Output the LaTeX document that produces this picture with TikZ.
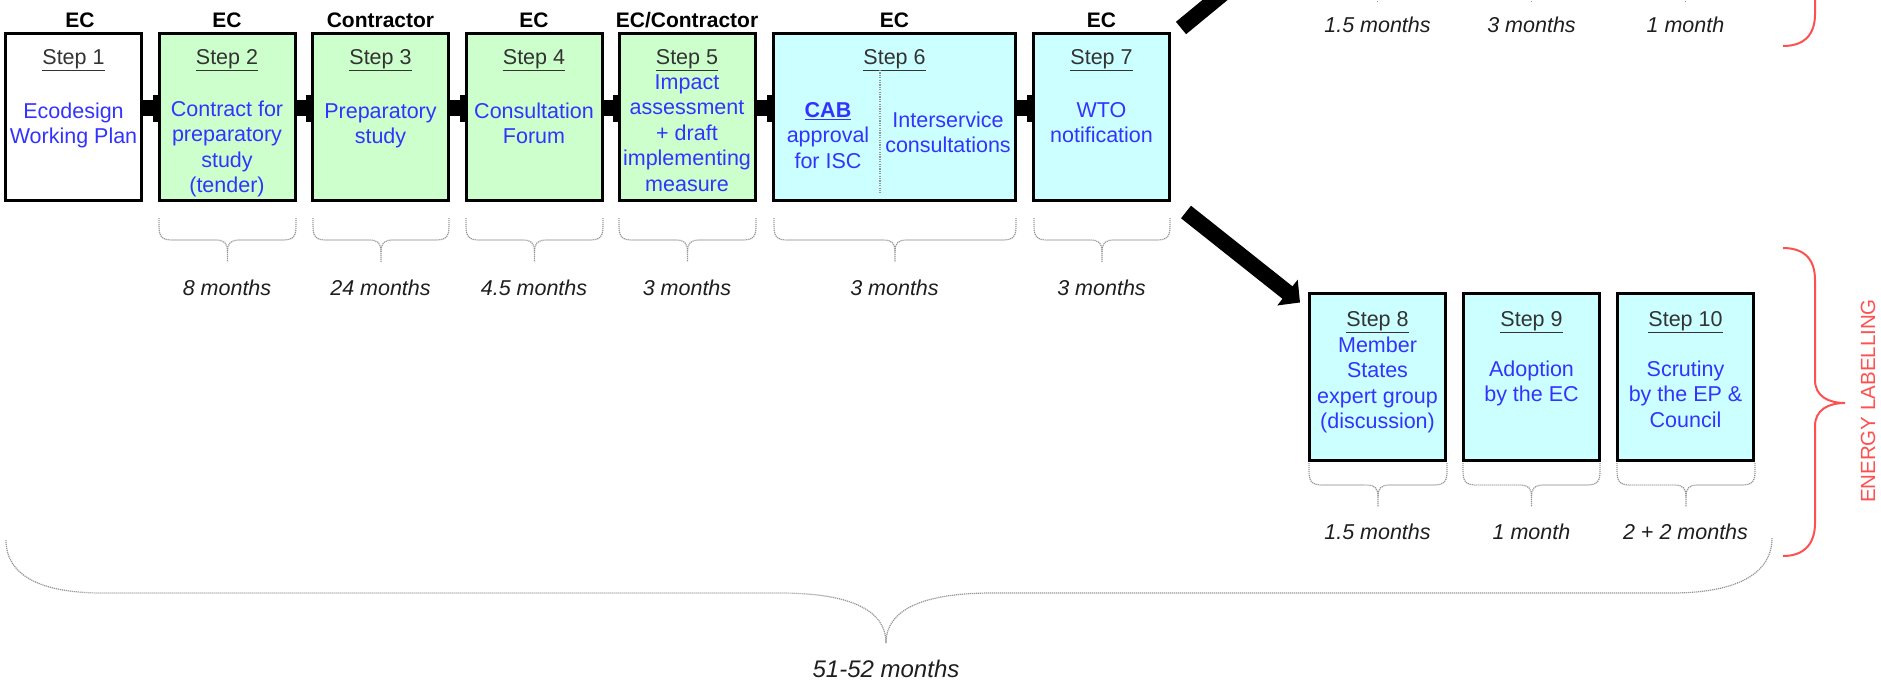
\documentclass[tikz,border=0pt]{standalone}
\usepackage{fontspec}
\setmainfont{Liberation Sans}
\usetikzlibrary{arrows.meta,backgrounds}
\definecolor{boxgreen}{RGB}{204,255,204}
\definecolor{boxcyan}{RGB}{204,255,255}
\definecolor{txtblue}{RGB}{51,51,255}
\definecolor{steptxt}{RGB}{51,51,51}
\definecolor{durtxt}{RGB}{30,30,30}
\definecolor{brgray}{RGB}{150,150,150}
\definecolor{elred}{RGB}{255,80,80}
\newcommand\hbrace[3]{%
  \pgfmathsetmacro\hbA{#1}\pgfmathsetmacro\hbB{#2}\pgfmathsetmacro\hbM{(#1+#2)/2}%
  \pgfmathsetmacro\hbT{#3}\pgfmathsetmacro\hbH{#3+22}\pgfmathsetmacro\hbP{#3+44}%
  \draw[brc] (\hbA,\hbT) -- (\hbA,{\hbT+8}) .. controls (\hbA,{\hbH-3}) and ({\hbA+3},\hbH) .. ({\hbA+14},\hbH)
    -- ({\hbM-12},\hbH) .. controls ({\hbM-3},\hbH) and (\hbM,{\hbH+3}) .. (\hbM,{\hbH+12}) -- (\hbM,\hbP);
  \draw[brc] (\hbB,\hbT) -- (\hbB,{\hbT+8}) .. controls (\hbB,{\hbH-3}) and ({\hbB-3},\hbH) .. ({\hbB-14},\hbH)
    -- ({\hbM+12},\hbH) .. controls ({\hbM+3},\hbH) and (\hbM,{\hbH+3}) .. (\hbM,{\hbH+12});
}
\begin{document}
\begin{tikzpicture}[x=1pt,y=-1pt,
  stepbox/.style={draw=black, line width=3pt, minimum width=136pt, minimum height=167pt, inner sep=0pt},
  hdr/.style={font=\fontsize{21}{25}\selectfont\bfseries, anchor=base, inner sep=0pt},
  steplbl/.style={font=\fontsize{21.5}{25.5}\selectfont, text=steptxt, anchor=base, inner sep=0pt},
  body/.style={font=\fontsize{21.5}{25.5}\selectfont, text=txtblue, align=center, anchor=north, inner sep=0pt, yshift=17.85pt},
  dur/.style={font=\fontsize{21.5}{25.5}\selectfont\itshape, text=durtxt, anchor=base, inner sep=0pt},
  brc/.style={draw=brgray, line width=1.2pt, dash pattern=on 1.2pt off 0.8pt},
  divider/.style={draw=brgray, line width=1.2pt, dash pattern=on 1.2pt off 1.2pt},
  barconn/.style={line width=16pt, -{Rectangle[width=27pt,length=8pt]}, shorten >=-3pt},
  bigarrow/.style={line width=16pt, -{Triangle[width=32pt,length=16pt]}},
  redbrace/.style={draw=elred, line width=2pt}
]
\useasboundingbox (0,0) rectangle (1881,681);
\clip (0,0) rectangle (1881,681);

% headers
\node[hdr] (h1) at (80,27) {EC};
\node[hdr] (h2) at (227,27) {EC};
\node[hdr] (h3) at (380.5,27) {Contractor};
\node[hdr] (h4) at (534,27) {EC};
\node[hdr] (h5) at (687,27) {EC/Contractor};
\node[hdr] (h6) at (894.5,27) {EC};
\node[hdr] (h7) at (1101.5,27) {EC};

% top boxes
\node[stepbox, fill=white] (b1) at (73.5,117) {};
\node[stepbox, fill=boxgreen] (b2) at (227,117) {};
\node[stepbox, fill=boxgreen] (b3) at (380.5,117) {};
\node[stepbox, fill=boxgreen] (b4) at (534,117) {};
\node[stepbox, fill=boxgreen] (b5) at (687,117) {};
\node[stepbox, fill=boxcyan, minimum width=242pt] (b6) at (894.5,117) {};
\node[stepbox, fill=boxcyan] (b7) at (1101.5,117) {};

% bottom boxes
\node[stepbox, fill=boxcyan] (b8) at (1377.5,376.5) {};
\node[stepbox, fill=boxcyan] (b9) at (1531.5,376.5) {};
\node[stepbox, fill=boxcyan] (b10) at (1685.5,376.5) {};

% step labels
\node[steplbl] (s1) at (73.5,64) {\underline{Step 1}};
\node[steplbl] (s2) at (227,64) {\underline{Step 2}};
\node[steplbl] (s3) at (380.5,64) {\underline{Step 3}};
\node[steplbl] (s4) at (534,64) {\underline{Step 4}};
\node[steplbl] (s5) at (687,64) {\underline{Step 5}};
\node[steplbl] (s6) at (894.5,64) {\underline{Step 6}};
\node[steplbl] (s7) at (1101.5,64) {\underline{Step 7}};
\node[steplbl] (s8) at (1377.5,326) {\underline{Step 8}};
\node[steplbl] (s9) at (1531.5,326) {\underline{Step 9}};
\node[steplbl] (s10) at (1685.5,326) {\underline{Step 10}};

% body texts
\node[body] (t1) at (73.5,118) {\strut Ecodesign\\Working Plan};
\node[body] (t2) at (227,116) {\strut Contract for\\preparatory\\study\\(tender)};
\node[body] (t3) at (380.5,118) {\strut Preparatory\\study};
\node[body] (t4) at (534,118) {\strut Consultation\\Forum};
\node[body] (t5) at (687,89) {\strut Impact\\assessment\\+ draft\\implementing\\measure};
\node[body] (t6a) at (828,117) {\strut{\bfseries\underline{CAB}}\\approval\\for ISC};
\node[body] (t6b) at (948,127) {\strut Interservice\\consultations};
\node[body] (t7) at (1101.5,117) {\strut WTO\\notification};
\node[body] (t8) at (1377.5,352) {\strut Member\\States\\expert group\\(discussion)};
\node[body] (t9) at (1531.5,376) {\strut Adoption\\by the EC};
\node[body] (t10) at (1685.5,376) {\strut Scrutiny\\by the EP \&\\Council};

\draw[divider] (880,70) -- (880,193);

% connectors between top boxes
\begin{scope}[on background layer]
\draw[barconn] ([yshift=9pt]b1.east) -- ([yshift=9pt]b2.west);
\draw[barconn] ([yshift=9pt]b2.east) -- ([yshift=9pt]b3.west);
\draw[barconn] ([yshift=9pt]b3.east) -- ([yshift=9pt]b4.west);
\draw[barconn] ([yshift=9pt]b4.east) -- ([yshift=9pt]b5.west);
\draw[barconn] ([yshift=9pt]b5.east) -- ([yshift=9pt]b6.west);
\draw[barconn] ([yshift=9pt]b6.east) -- ([yshift=9pt]b7.west);
\end{scope}

% big arrows
\coordinate (upEnd) at (1300,-70);
\draw[bigarrow] ([shift={(10,-4)}]b7.north east) -- (upEnd);
\draw[bigarrow] ([shift={(15,10)}]b7.south east) -- ([shift={(-8,11)}]b8.north west);

% small braces, top row
\hbrace{159}{296}{218}
\hbrace{313}{449}{218}
\hbrace{466}{603}{218}
\hbrace{619}{756}{218}
\hbrace{774}{1016}{218}
\hbrace{1034}{1170}{218}
\node[dur] (d2) at (227,295) {8 months};
\node[dur] (d3) at (380.5,295) {24 months};
\node[dur] (d4) at (534,295) {4.5 months};
\node[dur] (d5) at (687,295) {3 months};
\node[dur] (d6) at (894.5,295) {3 months};
\node[dur] (d7) at (1101.5,295) {3 months};

% small braces, bottom row
\hbrace{1309}{1447}{463}
\hbrace{1463}{1600}{463}
\hbrace{1617}{1755}{463}
\node[dur] (d8) at (1377.5,539) {1.5 months};
\node[dur] (d9) at (1531.5,539) {1 month};
\node[dur] (d10) at (1685.5,539) {2 + 2 months};

% partial upper row (cut off at the top)
\draw[brc] (1377.5,-5) -- (1377.5,2);
\draw[brc] (1531.5,-5) -- (1531.5,2);
\draw[brc] (1685.5,-5) -- (1685.5,2);
\node[dur] (u8) at (1377.5,32) {1.5 months};
\node[dur] (u9) at (1531.5,32) {3 months};
\node[dur] (u10) at (1685.5,32) {1 month};

% red braces
\draw[redbrace] (1815,-30) -- (1815,14) .. controls (1815,36) and (1803,46) .. (1783,46);
\draw[redbrace] (1783,248) .. controls (1803,248) and (1815,258) .. (1815,280) -- (1815,380)
  .. controls (1815,396) and (1828,403) .. (1845,403)
  .. controls (1828,403) and (1815,410) .. (1815,426) -- (1815,523)
  .. controls (1815,545) and (1803,556) .. (1783,556);
\node[rotate=90, text=elred, font=\fontsize{20.5}{24}\selectfont, inner sep=0pt] (enlab) at (1868,401) {ENERGY LABELLING};

% big brace
\draw[brc] (6,540) .. controls (6,575) and (40,593) .. (102,593) -- (780,593)
  .. controls (850,593) and (886,610) .. (886,643);
\draw[brc] (1772,538) .. controls (1772,572) and (1740,593) .. (1671,593) -- (992,593)
  .. controls (922,593) and (886,610) .. (886,643);
\node[dur, font=\fontsize{24}{28}\selectfont\itshape] (total) at (886,677) {51-52 months};
\end{tikzpicture}
\end{document}
